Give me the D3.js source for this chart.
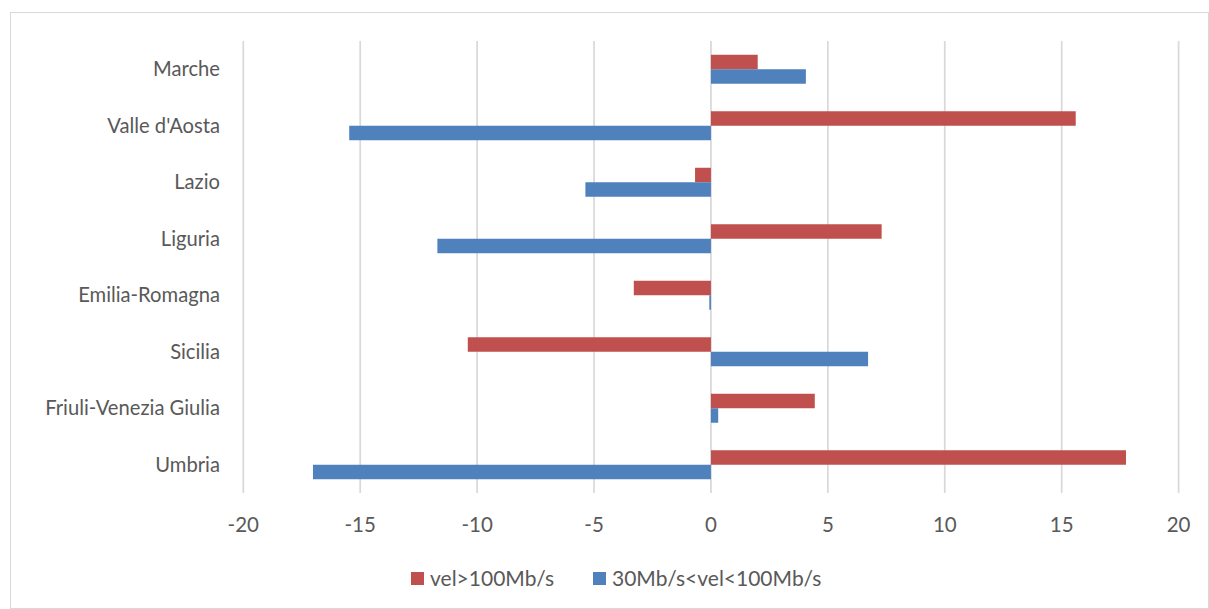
<!DOCTYPE html>
<html>
<head>
<meta charset="utf-8">
<script src="https://cdn.jsdelivr.net/npm/d3@7"></script>
<style>
  html, body { margin: 0; padding: 0; background: #fff; }
  svg { display: block; }
  text { font-family: Lato, "Open Sans", sans-serif; fill: #595959; }
</style>
</head>
<body>
<svg id="chart" width="1209" height="609"></svg>
<script>
// Regions, listed top to bottom
const regions = ["Marche", "Valle d'Aosta", "Lazio", "Liguria", "Emilia-Romagna", "Sicilia", "Friuli-Venezia Giulia", "Umbria"];
// Change for connections above 100 Mb/s
const fastValues = [2.0, 15.6, -0.68, 7.3, -3.3, -10.4, 4.44, 17.75];
// Change for connections between 30 and 100 Mb/s
const midValues = [4.06, -15.47, -5.37, -11.7, -0.07, 6.72, 0.31, -17.02];
// Axis ticks
const xTicks = [-20, -15, -10, -5, 0, 5, 10, 15, 20];
const seriesNames = ["vel>100Mb/s", "30Mb/s<vel<100Mb/s"];
const seriesColors = ["#C0504D", "#4F81BD"];

const svg = d3.select("#chart");

// Outer chart frame
svg.append("rect")
  .attr("x", 10.5).attr("y", 12.5)
  .attr("width", 1198).attr("height", 596)
  .attr("fill", "#fff").attr("stroke", "#D9D9D9").attr("stroke-width", 1);

const plotTop = 41, plotBottom = 493;
const x = d3.scaleLinear().domain([-20, 20]).range([243.3, 1178.6]);
const y = d3.scaleBand().domain(regions).range([plotTop, plotBottom])
  .paddingInner(0.487).paddingOuter(0.2435);
const inner = d3.scaleBand().domain([0, 1]).range([0, y.bandwidth()]);

// Vertical gridlines
svg.append("g").selectAll("line")
  .data(xTicks).join("line")
  .attr("x1", d => x(d)).attr("x2", d => x(d))
  .attr("y1", plotTop).attr("y2", plotBottom)
  .attr("stroke", "#D9D9D9").attr("stroke-width", 1.75);

// Bars
const rows = regions.map((r, i) => ({ region: r, vals: [fastValues[i], midValues[i]] }));
const groups = svg.append("g").selectAll("g")
  .data(rows).join("g")
  .attr("transform", d => `translate(0,${y(d.region)})`);

groups.selectAll("rect")
  .data(d => d.vals.map((v, k) => ({ v, k })))
  .join("rect")
  .attr("x", d => Math.min(x(0), x(d.v)))
  .attr("width", d => Math.max(Math.abs(x(d.v) - x(0)), 1))
  .attr("y", d => inner(d.k))
  .attr("height", inner.bandwidth())
  .attr("fill", d => seriesColors[d.k]);

// Category labels
svg.append("g").selectAll("text")
  .data(regions).join("text")
  .attr("x", 220)
  .attr("y", d => y(d) + y.bandwidth() / 2)
  .attr("dy", "0.35em")
  .attr("text-anchor", "end")
  .attr("font-size", 20.2)
  .text(d => d);

// Value axis labels
svg.append("g").selectAll("text")
  .data(xTicks).join("text")
  .attr("x", d => x(d))
  .attr("y", 532)
  .attr("text-anchor", "middle")
  .attr("font-size", 20.5)
  .text(d => d);

// Legend
const legendX = [411, 593];
const legend = svg.append("g").selectAll("g")
  .data(seriesNames).join("g")
  .attr("transform", (d, i) => `translate(${legendX[i]},572)`);
legend.append("rect")
  .attr("width", 13).attr("height", 13)
  .attr("fill", (d, i) => seriesColors[i]);
legend.append("text")
  .attr("x", 19).attr("y", 6.5).attr("dy", "0.35em")
  .attr("font-size", 21)
  .text(d => d);
</script>
</body>
</html>
